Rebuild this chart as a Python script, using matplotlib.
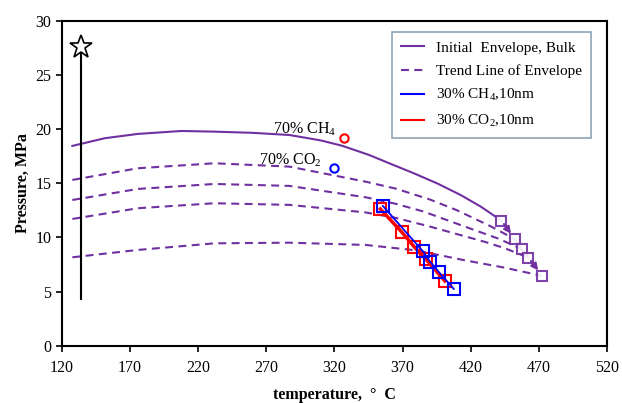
import matplotlib
matplotlib.use("Agg")
import matplotlib.pyplot as plt

plt.rcParams["font.family"] = ["Liberation Serif", "DejaVu Serif"]
plt.rcParams["mathtext.fontset"] = "custom"
plt.rcParams["mathtext.rm"] = "Liberation Serif"
plt.rcParams["mathtext.it"] = "Liberation Serif:italic"

# ---------------------------------------------------------------- data
env_T = [127.8, 151.5, 175.9, 207.7, 232, 260, 287, 310, 325.9, 345.6, 362, 378.6, 396, 412.8, 427.4, 442.6]
env_P = [18.44, 19.15, 19.55, 19.82, 19.76, 19.65, 19.45, 18.95, 18.45, 17.6, 16.75, 15.9, 14.95, 13.9, 12.84, 11.54]

trend1_T = [127.8, 175.9, 232, 287, 343, 365, 390, 410, 435, 452.6]
trend1_P = [15.3, 16.38, 16.84, 16.53, 15.14, 14.5, 13.5, 12.5, 11.0, 9.82]
trend2_T = [127.8, 175.9, 232, 287, 343, 365, 385, 420, 440, 457.3]
trend2_P = [13.45, 14.47, 14.93, 14.75, 13.7, 13.1, 12.4, 10.8, 9.9, 8.93]
trend3_T = [127.8, 175.9, 232, 287, 343, 365, 390, 430, 445, 462.4]
trend3_P = [11.7, 12.69, 13.15, 13.0, 12.3, 11.8, 11.0, 9.6, 9.0, 8.13]
trend4_T = [127.8, 175.9, 232, 287, 343, 380, 415, 445, 472.6]
trend4_P = [8.16, 8.84, 9.45, 9.51, 9.3, 8.8, 7.9, 7.2, 6.44]

shift_T = [442.6, 452.6, 457.3, 462.4, 472.6]
shift_P = [11.54, 9.82, 8.93, 8.13, 6.44]

ch4_T = [355.6, 384.8, 390.2, 396.8, 407.6]
ch4_P = [12.9, 8.74, 7.76, 6.78, 5.24]
co2_T = [353.7, 369.6, 378.7, 387.2, 401.1]
co2_P = [12.62, 10.47, 9.11, 7.98, 5.97]

ch4_70 = (327.3, 19.15)
co2_70 = (320.0, 16.44)

crit_T = [134.4, 134.4]
crit_P = [27.6, 4.3]

xticks = [120, 170, 220, 270, 320, 370, 420, 470, 520]
yticks = [0, 5, 10, 15, 20, 25, 30]

purple = "#7030A0"
fs = 11.5
dash = (0, (3.8, 2.6))
################################################################
fig = plt.figure(figsize=(6.22, 4.03), dpi=100)
ax = fig.add_axes([61.7/622, 1-345.7/403, (607-61.7)/622, 325/403])

l_env, = ax.plot(env_T, env_P, color=purple, lw=1.5, label="Initial Envelope, Bulk")
l_tr, = ax.plot(trend1_T, trend1_P, color=purple, lw=1.5, ls=dash, label="Trend Line of Envelope")
for tT, tP in [(trend2_T, trend2_P), (trend3_T, trend3_P), (trend4_T, trend4_P)]:
    ax.plot(tT, tP, color=purple, lw=1.5, ls=dash)

ax.plot(shift_T[1:4], shift_P[1:4], color=purple, lw=1.5)
for a, b in [(0, 1), (3, 4)]:
    ax.annotate("", xy=(shift_T[b], shift_P[b]), xytext=(shift_T[a], shift_P[a]),
                arrowprops=dict(arrowstyle="-|>", color=purple, lw=1.5, mutation_scale=10,
                                shrinkA=3, shrinkB=5))
ax.plot(shift_T, shift_P, ls="none", marker="s", ms=7.5, mfc="white", mec=purple, mew=1.5, alpha=0.9)

l_co2, = ax.plot(co2_T, co2_P, color="red", lw=2.5, marker="s", ms=8.5, mfc="none", mec="red", mew=1.5,
                 label="30% CO$_2$,10nm")
l_ch4, = ax.plot(ch4_T, ch4_P, color="blue", lw=1.3, marker="s", ms=8.5, mfc="none", mec="blue", mew=1.5,
                 label="30% CH$_4$,10nm")

ax.plot(*ch4_70, marker="o", ms=6, mfc="white", mec="red", mew=1.5)
ax.plot(*co2_70, marker="o", ms=6, mfc="white", mec="blue", mew=1.5)
ax.text(298, 19.95, "70% CH$_4$", fontsize=fs, ha="center", va="center")
ax.text(288, 17.15, "70% CO$_2$", fontsize=fs, ha="center", va="center")

ax.plot(crit_T, crit_P, color="black", lw=1.5)
ax.plot(crit_T[0], crit_P[0], marker="*", ms=17, mfc="white", mec="black", mew=1.2)

ax.set_xlim(120, 520)
ax.set_ylim(0, 30)
ax.set_xticks(xticks)
ax.set_yticks(yticks)
ax.tick_params(axis="both", labelsize=fs, direction="out", length=4, width=1.2)
ax.tick_params(axis="x", pad=6)
for s in ax.spines.values():
    s.set_linewidth(1.5)
ax.set_xlabel("temperature,  °  C", fontsize=fs, fontweight="bold", labelpad=8)
ax.set_ylabel("Pressure, MPa", fontsize=fs, fontweight="bold", labelpad=3)

leg = ax.legend([l_env, l_tr, l_ch4, l_co2],
                ["Initial  Envelope, Bulk", "Trend Line of Envelope", "30% CH$_4$,10nm", "30% CO$_2$,10nm"],
                loc="upper left", bbox_to_anchor=(0.605, 0.966), borderaxespad=0,
                fontsize=11, fancybox=False, framealpha=1, edgecolor="#8FA3B5",
                handlelength=1.5, labelspacing=0.62, borderpad=0.6)
for h in leg.legend_handles:
    h.set_marker("")
    h.set_linewidth(1.5)
leg.get_frame().set_linewidth(1.2)

fig.savefig("out.png", dpi=100)
